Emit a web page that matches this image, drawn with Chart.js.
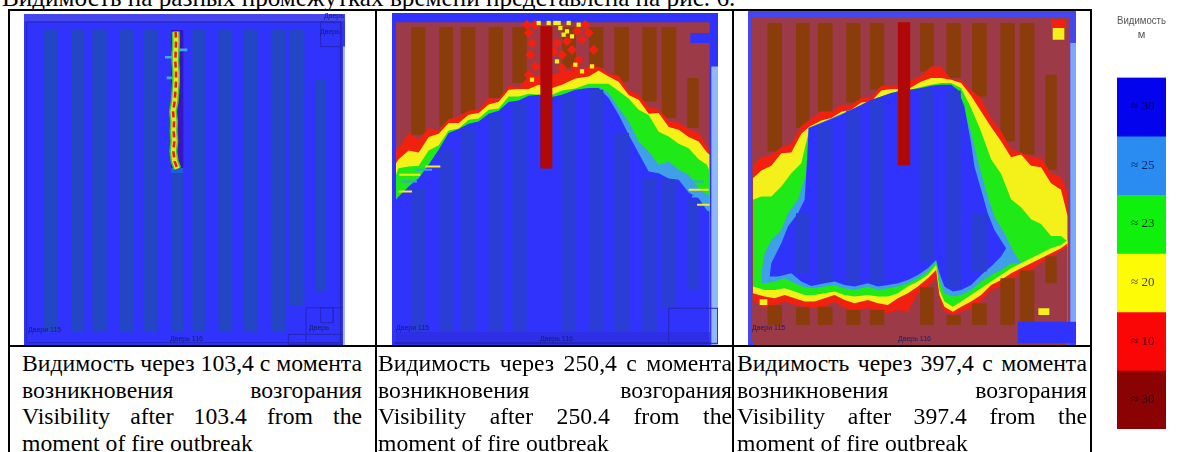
<!DOCTYPE html>
<html lang="ru">
<head>
<meta charset="UTF-8">
<title>Видимость</title>
<script src="https://cdn.jsdelivr.net/npm/chart.js"></script>
<style>
  html, body { margin: 0; padding: 0; background: #fff; overflow: hidden; }
  body { width: 1183px; height: 452px; position: relative; font-family: 'Liberation Serif', serif; color: #000; }
  canvas { position: absolute; filter: blur(0.7px); }
  .rule { position: absolute; background: #000; }
  .head { position: absolute; left: 2px; top: -15px; font-size: 25.2px; line-height: 25px; white-space: nowrap; }
  .cap { position: absolute; font-size: 23.7px; line-height: 24px; white-space: nowrap; }
  .just { white-space: normal; word-spacing: -2px; text-align: justify; text-align-last: justify; }
  .door { position: absolute; font: 7px 'Liberation Sans', sans-serif; color: #14206e; filter: blur(0.5px); white-space: nowrap; }
</style>
</head>
<body>
<div class="head">Видимость на разных промежутках времени представлена на рис. 6.</div>

<canvas id="panel1" width="321" height="332" style="left:24px;top:14px"></canvas>
<canvas id="panel2" width="326" height="332" style="left:392px;top:13px"></canvas>
<canvas id="panel3" width="328" height="336" style="left:748px;top:9px"></canvas>
<canvas id="scale" width="83" height="419" style="left:1100px;top:10px"></canvas>

<div class="door" style="left:28px;top:326px">Двери 115</div>
<div class="door" style="left:170px;top:335px">Дверь 116</div>
<div class="door" style="left:324px;top:12px">Дверь</div>
<div class="door" style="left:320px;top:28px">Дверь</div>
<div class="door" style="left:309px;top:324px">Дверь</div>
<div class="door" style="left:396px;top:324px">Двери 115</div>
<div class="door" style="left:540px;top:335px">Дверь 116</div>
<div class="door" style="left:752px;top:324px">Двери 115</div>
<div class="door" style="left:898px;top:335px">Дверь 116</div>

<div class="rule" style="left:8px;top:9px;width:1084px;height:2px"></div>
<div class="rule" style="left:8px;top:345px;width:1084px;height:2px"></div>
<div class="rule" style="left:8px;top:9px;width:2px;height:443px"></div>
<div class="rule" style="left:375px;top:9px;width:2px;height:443px"></div>
<div class="rule" style="left:732px;top:9px;width:2px;height:443px"></div>
<div class="rule" style="left:1090px;top:9px;width:2px;height:443px"></div>

<div id="captions"></div>

<script>
// captions under the three panels
const captionTimesRu = ['103,4', '250,4', '397,4'];
const captionTimesEn = ['103.4', '250.4', '397.4'];

// colour scale
const scaleLabels = ['30', '25', '23', '20', '10', '30'];
const scaleColors = ['#0303ee', '#2a8cf0', '#0ff00c', '#fdfc06', '#fb0606', '#8b0202'];

const colors = {
  rose: '#9d3a48', brown: '#8a3c0a', red: '#f2200e', yellow: '#f4f01a', green: '#1fea18',
  cyan: '#3f9fe8', blue: '#2f33fb', stripe: '#2347c4', stripe2: '#2a3ed6', column: '#b00808', band: '#4646ee', wall: '#2626b8'
};

// panel 1: nothing but the fire line, the rest of the hall is clear
const p1StripeL = [130, 213, 277, 360, 430, 513, 577, 655, 730, 813, 870, 945];
const p1StripeR = [172, 253, 320, 402, 472, 550, 617, 697, 773, 855, 913, 978];
const p1StripeT = [90, 90, 90, 90, 90, 90, 90, 90, 90, 90, 90, 240];
const p1StripeB = [998, 998, 998, 998, 998, 998, 998, 998, 998, 998, 920, 875];
const p1FireY = [95, 125, 155, 185, 215, 245, 275, 305, 335, 365, 395, 425, 455, 485, 507];
const p1FireX = [527, 528, 527, 526, 528, 528, 526, 524, 519, 522, 521, 523, 520, 524, 532];

// panel 2: upper edges of each band along the hall
const p2X = [62, 70, 100, 130, 160, 190, 220, 250, 280, 310, 340, 370, 400, 430, 460, 490, 530, 560, 600, 640, 670, 700, 730, 760, 790, 820, 850, 880, 910, 940, 970, 995, 1003];
const p2Red = [450, 445, 400, 418, 385, 392, 358, 350, 332, 330, 295, 298, 258, 262, 230, 225, 225, 215, 210, 205, 200, 222, 228, 272, 284, 322, 328, 362, 368, 388, 400, 438, 445];
const p2Yellow = [490, 478, 452, 458, 412, 402, 370, 370, 345, 340, 314, 306, 270, 268, 268, 255, 265, 255, 236, 230, 212, 230, 246, 286, 300, 342, 340, 382, 390, 412, 425, 458, 465];
const p2Green = [525, 505, 500, 498, 452, 436, 392, 386, 360, 356, 330, 326, 290, 290, 282, 285, 285, 272, 266, 252, 252, 252, 274, 296, 330, 346, 396, 410, 432, 445, 478, 495, 515];
const p2Cyan = [595, 590, 560, 535, 495, 450, 400, 388, 372, 365, 342, 333, 307, 302, 288, 285, 292, 285, 270, 265, 262, 280, 325, 365, 425, 455, 495, 485, 510, 525, 565, 585, 600];
const p2Blue = [600, 590, 560, 535, 495, 450, 400, 388, 372, 365, 342, 333, 307, 302, 288, 285, 292, 285, 270, 265, 265, 295, 345, 405, 460, 515, 520, 536, 540, 578, 595, 632, 635];
const p2StripeL = [108, 192, 256, 340, 411, 561, 641, 717, 801, 859, 936];
const p2StripeR = [150, 233, 300, 383, 454, 602, 684, 761, 844, 903, 970];
const p2SmokeTop = [82, 82, 82, 82, 82, 82, 82, 82, 82, 82, 235];
const p2SmokeEnd = [405, 380, 342, 295, 250, 205, 205, 245, 305, 355, 385];
const p2ClearTop = [565, 450, 388, 348, 312, 286, 270, 400, 535, 540, 600];
const p2ClearEnd = [995, 995, 995, 995, 995, 995, 995, 995, 995, 920, 870];
const p2RedSpotX = [460, 470, 465, 480, 460, 545, 560, 590, 620, 640, 610, 650, 560, 600, 630, 480, 455, 500, 575, 605, 535, 655, 100, 150, 115, 925, 960];
const p2RedSpotY = [100, 130, 165, 200, 225, 130, 165, 150, 120, 100, 180, 205, 205, 200, 75, 75, 75, 200, 125, 95, 155, 150, 425, 435, 470, 410, 425];
const p2YellowSpotX = [575, 555, 590, 545, 600, 650, 610, 490, 520, 550, 470, 580, 565, 620, 540];
const p2YellowSpotY = [95, 85, 110, 185, 195, 200, 75, 70, 70, 70, 240, 70, 105, 215, 70];
const p2StreakL = [72, 78, 70, 120, 150, 925, 940, 950, 965];
const p2StreakR = [135, 125, 110, 170, 195, 985, 1000, 1003, 1003];
const p2StreakY = [525, 545, 575, 510, 500, 545, 570, 590, 615];

// panel 3: upper edges of the bands
const p3TopX = [25, 50, 80, 110, 140, 170, 195, 230, 260, 290, 320, 350, 380, 410, 440, 460, 497, 530, 560, 590, 620, 650, 680, 710, 740, 770, 800, 830, 860, 890, 920, 950, 970];
const p3Red = [495, 472, 465, 442, 432, 378, 360, 335, 335, 315, 315, 295, 290, 258, 258, 255, 243, 228, 200, 200, 238, 240, 270, 296, 356, 394, 448, 458, 470, 474, 520, 532, 580];
const p3Yellow = [535, 512, 498, 460, 458, 402, 380, 362, 355, 336, 330, 308, 305, 272, 268, 268, 265, 245, 235, 235, 240, 250, 288, 335, 382, 424, 472, 464, 498, 502, 550, 570, 650];
const p3Green = [600, 590, 590, 560, 520, 490, 385, 375, 360, 350, 335, 320, 305, 290, 280, 275, 270, 262, 255, 250, 250, 265, 325, 395, 478, 522, 598, 622, 658, 672, 708, 708, 725];
const p3CyanX = [50, 60, 80, 110, 130, 160, 185, 192, 320, 460, 620, 650, 680, 710, 730, 750, 780, 810, 830];
const p3Cyan = [820, 760, 720, 690, 640, 600, 520, 385, 330, 275, 255, 300, 400, 520, 590, 650, 700, 760, 790];
const p3BlueX = [75, 80, 110, 130, 160, 180, 188, 192, 230, 260, 290, 320, 350, 380, 410, 440, 460, 497, 530, 560, 590, 620, 640, 660, 680, 690, 710, 730, 750, 785];
const p3Blue = [830, 790, 730, 680, 640, 600, 470, 385, 370, 358, 345, 330, 315, 300, 290, 280, 275, 270, 265, 258, 255, 255, 270, 320, 430, 500, 570, 640, 690, 745];
// panel 3: lower edges, going back down to the smoke
const p3BlueEndX = [75, 100, 140, 170, 200, 240, 270, 300, 330, 370, 400, 430, 460, 490, 520, 550, 575, 585, 600, 625, 650, 680, 710, 740, 770, 785];
const p3BlueEnd = [830, 830, 820, 845, 858, 850, 845, 855, 860, 850, 860, 855, 850, 840, 825, 805, 780, 820, 860, 875, 870, 855, 825, 800, 770, 745];
const p3LowX = [25, 60, 90, 120, 150, 180, 210, 240, 270, 300, 330, 370, 400, 430, 460, 490, 520, 550, 575, 585, 600, 625, 650, 680, 710, 740, 770, 800, 830, 860, 890, 920, 950, 970];
const p3CyanEnd = [845, 850, 845, 835, 850, 862, 865, 860, 855, 865, 870, 860, 870, 865, 860, 850, 835, 815, 785, 840, 880, 890, 885, 870, 845, 825, 810, 790, 790, 775, 760, 745, 735, 720];
const p3GreenEnd = [860, 870, 870, 865, 875, 885, 885, 880, 875, 885, 890, 885, 890, 890, 880, 860, 845, 825, 795, 870, 905, 920, 905, 885, 865, 845, 825, 805, 790, 775, 760, 745, 735, 720];
const p3YellowEnd = [880, 890, 895, 885, 895, 905, 905, 895, 885, 900, 910, 900, 910, 915, 895, 880, 860, 835, 810, 885, 920, 935, 920, 905, 885, 855, 840, 820, 805, 790, 775, 760, 745, 730];
const p3RedEnd = [900, 925, 915, 905, 915, 920, 925, 920, 905, 925, 930, 925, 930, 940, 930, 935, 880, 860, 835, 900, 935, 945, 935, 925, 905, 870, 860, 840, 820, 810, 790, 770, 755, 740];
const p3StripeL = [69, 154, 220, 305, 376, 527, 606, 683, 768, 826, 903];
const p3StripeR = [112, 195, 264, 348, 419, 568, 649, 727, 811, 870, 937];
const p3SmokeTop = [70, 70, 70, 70, 70, 70, 70, 70, 70, 70, 225];
const p3SmokeEnd = [455, 385, 335, 308, 270, 215, 235, 290, 425, 465, 510];
const p3ClearTop = [0, 640, 375, 332, 302, 268, 272, 640, 0, 0, 0];
const p3ClearEnd = [0, 820, 845, 850, 850, 785, 865, 815, 0, 0, 0];
const p3UnderTop = [915, 922, 920, 930, 930, 862, 945, 910, 835, 812, 770];
const p3UnderEnd = [975, 975, 975, 975, 975, 975, 975, 975, 975, 975, 850];

function pts(xs, ys) { return xs.map((x, i) => ({ x, y: ys[i] })); }

function panel(id, xMin, xMax, yMin, yMax, layers) {
  const canvas = document.getElementById(id);
  const perUnit = canvas.width / (xMax - xMin);
  const plain = { pointRadius: 0, tension: 0, borderWidth: 0, fill: false };
  const sets = layers.map((l) => {
    if (l.area) return { ...plain, data: pts(l.xs, l.ys), backgroundColor: l.area, fill: { value: yMax } };
    if (l.block) {
      const mid = (l.left + l.right) / 2;
      return { ...plain, data: [{ x: mid, y: l.top }, { x: mid, y: l.bottom }], borderColor: l.block, borderWidth: (l.right - l.left) * perUnit };
    }
    if (l.spots) return { ...plain, showLine: false, data: pts(l.xs, l.ys), pointRadius: l.size, pointStyle: l.style || 'circle', pointBackgroundColor: l.spots, pointBorderWidth: 0 };
    return { ...plain, data: pts(l.xs, l.ys), borderColor: l.stroke, borderWidth: l.width, borderDash: l.dash || [] };
  });
  sets.forEach((s, i) => { s.order = sets.length - i; });
  new Chart(canvas, {
    type: 'line',
    data: { datasets: sets },
    options: {
      responsive: false, animation: false, layout: { padding: 0, autoPadding: false },
      plugins: { legend: { display: false }, tooltip: { enabled: false } },
      scales: {
        x: { type: 'linear', display: false, min: xMin, max: xMax },
        y: { type: 'linear', display: false, min: yMin, max: yMax, reverse: true }
      }
    }
  });
}

function stripeBlocks(lefts, rights, tops, ends, color) {
  return lefts.map((l, i) => ({ block: color, left: l, right: rights[i], top: tops[i], bottom: ends[i] })).filter((b) => b.bottom > b.top);
}

function outline(x0, y0, x1, y1, color) {
  return { xs: [x0, x1, x1, x0, x0], ys: [y0, y0, y1, y1, y0], stroke: color, width: 1 };
}

// panel 1
panel('panel1', 72, 1035, 42, 1040, [
  { block: colors.blue, left: 72, right: 1035, top: 42, bottom: 1040 },
  { block: colors.band, left: 72, right: 1035, top: 42, bottom: 64 },
  ...stripeBlocks(p1StripeL, p1StripeR, p1StripeT, p1StripeB, colors.stripe),
  { block: '#3a14c4', left: 513, right: 550, top: 90, bottom: 515 },
  { block: '#1a5fd8', left: 513, right: 550, top: 505, bottom: 520 },
  { block: '#44a8e8', left: 495, right: 525, top: 168, bottom: 176 },
  { block: '#44a8e8', left: 530, right: 562, top: 146, bottom: 154 },
  { block: '#44a8e8', left: 500, right: 535, top: 230, bottom: 238 },
  { xs: p1FireX, ys: p1FireY, stroke: '#35c828', width: 8 },
  { xs: p1FireX, ys: p1FireY, stroke: '#e8e020', width: 5 },
  { xs: p1FireX, ys: p1FireY, stroke: '#f01808', width: 2.5, dash: [6, 4] },
  outline(80, 66, 1022, 1030, colors.wall),
  outline(962, 66, 1022, 140, colors.wall),
  outline(918, 925, 1035, 1030, colors.wall),
  outline(962, 925, 1000, 970, colors.wall),
  outline(865, 1005, 1035, 1035, colors.wall),
  { block: '#aab8ff', left: 1029, right: 1035, top: 140, bottom: 1040 }
]);

// panel 2
panel('panel2', 50, 1028, 40, 1035, [
  { block: colors.blue, left: 50, right: 1028, top: 40, bottom: 1035 },
  { block: colors.rose, left: 62, right: 1003, top: 68, bottom: 600 },
  ...stripeBlocks(p2StripeL, p2StripeR, p2SmokeTop, p2SmokeEnd, colors.brown),
  { block: colors.blue, left: 945, right: 1003, top: 100, bottom: 130 },
  { area: colors.red, xs: p2X, ys: p2Red },
  { spots: colors.red, xs: p2RedSpotX, ys: p2RedSpotY, size: 5, style: 'rectRot' },
  { spots: colors.yellow, xs: p2YellowSpotX, ys: p2YellowSpotY, size: 3, style: 'rect' },
  { area: colors.yellow, xs: p2X, ys: p2Yellow },
  { area: colors.green, xs: p2X, ys: p2Green },
  { area: colors.cyan, xs: p2X, ys: p2Cyan },
  { area: colors.blue, xs: p2X, ys: p2Blue },
  ...stripeBlocks(p2StripeL, p2StripeR, p2ClearTop, p2ClearEnd, colors.stripe2),
  ...p2StreakY.map((y, i) => ({ block: i % 2 ? colors.cyan : colors.yellow, left: p2StreakL[i], right: p2StreakR[i], top: y - 3, bottom: y + 3 })),
  { block: '#2e2ee6', left: 62, right: 1003, top: 996, bottom: 1035 },
  { block: colors.column, left: 495, right: 531, top: 80, bottom: 506 },
  { block: '#8fb8ff', left: 1008, right: 1028, top: 200, bottom: 1035 },
  outline(880, 925, 1028, 1030, colors.wall),
  outline(58, 1028, 1003, 1030, colors.wall)
]);

// panel 3
panel('panel3', 10, 995, 28, 1035, [
  { block: colors.band, left: 10, right: 995, top: 28, bottom: 1035 },
  { block: colors.rose, left: 22, right: 975, top: 52, bottom: 1022 },
  ...stripeBlocks(p3StripeL, p3StripeR, p3SmokeTop, p3SmokeEnd, colors.brown),
  { area: colors.red, xs: p3TopX, ys: p3Red },
  { area: colors.yellow, xs: p3TopX, ys: p3Yellow },
  { area: colors.green, xs: p3TopX, ys: p3Green },
  { area: colors.cyan, xs: p3CyanX, ys: p3Cyan },
  { area: colors.blue, xs: p3BlueX, ys: p3Blue },
  { area: colors.cyan, xs: p3BlueEndX, ys: p3BlueEnd },
  { area: colors.green, xs: p3LowX, ys: p3CyanEnd },
  { area: colors.yellow, xs: p3LowX, ys: p3GreenEnd },
  { area: colors.red, xs: p3LowX, ys: p3YellowEnd },
  { area: colors.rose, xs: p3LowX, ys: p3RedEnd },
  ...stripeBlocks(p3StripeL, p3StripeR, p3ClearTop, p3ClearEnd, colors.stripe2),
  ...stripeBlocks(p3StripeL, p3StripeR, p3UnderTop, p3UnderEnd, colors.brown),
  { block: colors.rose, left: 22, right: 975, top: 975, bottom: 1022 },
  { block: colors.blue, left: 820, right: 995, top: 965, bottom: 1030 },
  { block: colors.red, left: 920, right: 965, top: 60, bottom: 85 },
  { block: colors.yellow, left: 925, right: 960, top: 85, bottom: 120 },
  { block: colors.yellow, left: 882, right: 915, top: 925, bottom: 945 },
  { block: colors.yellow, left: 45, right: 68, top: 898, bottom: 915 },
  { block: colors.column, left: 460, right: 497, top: 68, bottom: 496 },
  { block: '#7fa8f8', left: 978, right: 995, top: 130, bottom: 965 }
]);

// colour scale with its labels sitting inside the bands
new Chart(document.getElementById('scale'), {
  type: 'bar',
  data: {
    labels: ['м'],
    datasets: scaleColors.map((c, i) => ({ data: [[i, i + 1]], backgroundColor: c, barPercentage: 1, categoryPercentage: 1, grouped: false }))
  },
  options: {
    responsive: false, animation: false,
    layout: { padding: { left: 17, right: 17 }, autoPadding: false },
    plugins: {
      legend: { display: false }, tooltip: { enabled: false },
      title: { display: true, text: ['Видимость', 'м'], color: '#555', font: { size: 11, weight: 'normal', family: 'Liberation Sans', lineHeight: 1.3 }, padding: { top: 4, bottom: 35 } }
    },
    scales: {
      x: { display: false },
      y: {
        min: 0, max: 6, reverse: true,
        border: { display: false }, grid: { display: false },
        afterBuildTicks: (axis) => { axis.ticks = scaleLabels.map((t, i) => ({ value: i + 0.5 })); },
        afterFit: (axis) => { axis.width = 0; axis.paddingTop = 0; axis.paddingBottom = 0; },
        ticks: {
          z: 1, mirror: true, padding: 14, color: 'rgba(0,0,40,0.75)', font: { size: 13, family: 'Liberation Serif' },
          callback: (v, i) => '≈ ' + scaleLabels[i]
        }
      }
    }
  }
});

// captions, one absolutely placed line each
const capLefts = [22, 378, 737];
const capWidths = [340, 354, 350];
const capTops = [351, 378, 404, 431];
const box = document.getElementById('captions');
captionTimesRu.forEach((t, i) => {
  const lines = [
    'Видимость через ' + t + ' с момента',
    'возникновения возгорания',
    'Visibility after ' + captionTimesEn[i] + ' from the',
    'moment of fire outbreak'
  ];
  lines.forEach((line, j) => {
    const d = document.createElement('div');
    d.className = j < 3 ? 'cap just' : 'cap';
    d.textContent = line;
    d.style.left = capLefts[i] + 'px';
    d.style.top = capTops[j] + 'px';
    if (j < 3) d.style.width = capWidths[i] + 'px';
    box.appendChild(d);
  });
});
</script>
</body>
</html>
